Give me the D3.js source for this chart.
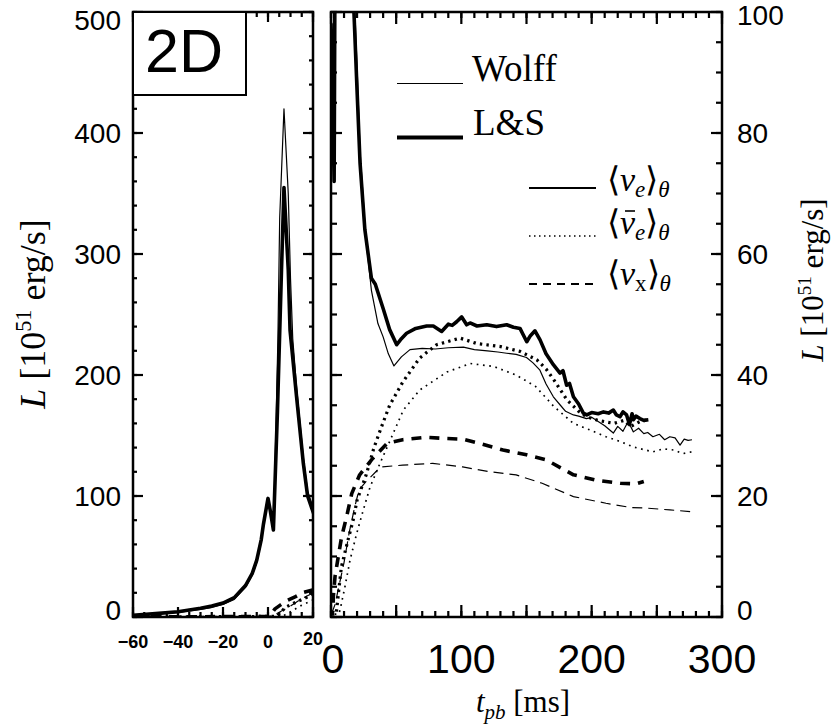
<!DOCTYPE html>
<html><head><meta charset="utf-8">
<script src="https://cdn.jsdelivr.net/npm/d3@7/dist/d3.min.js"></script>
<style>body{margin:0;background:#fff}svg{display:block}</style>
</head><body>
<script>
// ---- data: [t_pb (ms), L (1e51 erg/s)] ----
const wolffNue = [[-60,1.3],[-50,2.4],[-40,3.8],[-30,6.3],[-25,8],[-20,10.3],[-15,14.5],[-10,24.5],[-7,34.5],[-5,45],[-3,62],[-2,75],[0,96],[1,88],[2.5,72],[4.4,230],[5.2,330],[7.1,420],[9,350],[10,280],[11,230],[12.7,190],[15.7,132],[17.6,104],[20,91],[22.3,77],[26,65],[28,60],[31,54],[36,48.5],[40,46.3],[44,43.5],[48.3,41.5],[54,43],[60.6,44.2],[70,44.4],[80,44.3],[90,44.5],[101.6,44.6],[110,44.2],[120,44],[128,43.8],[134.8,43.6],[142,43.4],[150,42.9],[155,42],[160.3,40.8],[165,38.5],[170.6,36.4],[176,35],[180,34],[186,33.4],[190,33.2],[196,32.8],[200,33],[205,32.3],[210,31.6],[216.6,30.4],[220,31.5],[224,30.7],[228,32.3],[232,30.6],[236,31.2],[240,30.3],[243,30.5],[247,29.8],[252,30.2],[256,29.3],[260,29.8],[264,29.6],[267.8,28.4],[271,29.4],[274,29.2],[277,29.3]];
const lsNue = [[-60,1.5],[-50,2.8],[-40,4.3],[-30,7.2],[-25,9],[-20,11.5],[-15,16],[-10,26],[-7,36],[-5,47],[-3,64],[-2,77],[0,98],[1,88],[2.4,72],[4.2,170],[6,287],[7.1,355],[9,287],[9.8,237],[12.7,182],[15.7,127],[17.6,100],[20,87],[22.3,75],[26,64],[31,56],[34,55],[40,51],[45,47.5],[50.4,45],[54,46],[58,46.9],[65,47.7],[73.4,48.1],[78.5,48.1],[84.9,47.2],[90,48.4],[93,48.2],[96.4,48.8],[100.3,49.6],[104.1,48.3],[106.7,48.6],[112,48.1],[119.5,48.3],[127,48],[134.8,48.3],[140,47.9],[145,47.7],[150.2,45.5],[153,46.5],[156.5,47.3],[160.4,45.8],[165,43.5],[170.6,41.7],[175.7,40.3],[178,40.7],[180.8,38.3],[183,38.6],[186,36.4],[190,35.2],[193.6,33.7],[196.2,33.4],[200,33.8],[205,33.6],[209,33.9],[213,33.7],[216.6,34.2],[219,33.4],[221.7,33.1],[224,33.9],[226.8,33.4],[229,31.8],[231,33.6],[232,32.6],[234,33.2],[237,32.8],[240,32.5],[243.5,32.6]];
const wolffNuebar = [[-60,0],[6,0.5],[7,1.2],[10.7,5],[14.6,9.4],[19.7,13.8],[24.8,17.7],[30,21.5],[37.6,25.4],[45,29],[55.5,34.2],[68,37.5],[89,40.5],[107,41.9],[125,41.4],[142,40],[157,38.1],[171,34.8],[186,32],[200,30.8],[211,29.8],[222,29],[232,28.1],[247,27.3],[255,27.8],[263,27.6],[270,27],[277,27.3]];
const lsNuebar = [[-60,0],[4,0.5],[6,4.5],[8,8.3],[13,12.7],[17,16],[20,19.3],[27,23.5],[33,28],[38,31],[45,35],[55,38.8],[68,42.8],[81,45],[99,46.1],[112,45.2],[130,44.7],[145,43.9],[158,42.5],[165,41],[171,39.2],[181,35.9],[190,34],[196,33.1],[205,32.5],[217,32],[225,32.5],[230,31.5],[237,32.3],[243,32.6]];
const wolffNux = [[-60,0],[0,0.3],[3,2],[6,5],[10,9],[14,14],[18,18],[21.5,21],[27,22.4],[38,24.8],[55,25.1],[78,25.4],[101,24.8],[122,24],[142,23.5],[162,22.1],[186,19.9],[211,18.8],[230,18.1],[242,18],[260,17.7],[277,17.4]];
const lsNux = [[-60,0],[0,0.5],[1.5,1],[1.8,3.4],[3.1,6.7],[5.6,10],[8.2,13.3],[12,16.6],[15.9,20.4],[22,23.5],[32,26.2],[43,28.7],[55,29.3],[73,29.7],[89,29.5],[101,29.4],[114,28.7],[132,27.6],[150,26.8],[165,26],[186,23.5],[204,22.6],[222,22.1],[234,22],[240,22.4]];

const leftYTicks = [0,100,200,300,400,500];
const leftXTicks = [-60,-40,-20,0,20];
const rightXTicks = [0,100,200,300];
const rightYTicks = [0,20,40,60,80,100];

const W=831,H=728;
const svg=d3.select("body").append("svg").attr("width",W).attr("height",H);
const SANS="'Liberation Sans', Arial, Helvetica, sans-serif";
const SERIF="'Liberation Serif', 'Times New Roman', serif";

const xL=d3.scaleLinear().domain([-60,20]).range([133,313]);
const yL=d3.scaleLinear().domain([0,500]).range([617,12]);
const xR=d3.scaleLinear().domain([0,300]).range([331,722]);
const yR=d3.scaleLinear().domain([0,100]).range([617,12]);

const defs=svg.append("defs");
defs.append("clipPath").attr("id","cl").append("rect").attr("x",133).attr("y",12).attr("width",180).attr("height",605);
defs.append("clipPath").attr("id","cr").append("rect").attr("x",331).attr("y",12).attr("width",391).attr("height",605);

const series=[
 {d:wolffNue, w:1.2, dash:null},
 {d:lsNue, w:3.6, dash:null},
 {d:wolffNuebar, w:1.7, dash:"1.7,4.6"},
 {d:lsNuebar, w:3.2, dash:"2.4,4.2"},
 {d:wolffNux, w:1.2, dash:"10,6"},
 {d:lsNux, w:3.6, dash:"10,8"}
];
function drawPanel(x,y,clip){
  const g=svg.append("g").attr("clip-path",`url(#${clip})`);
  const line=d3.line().x(p=>x(p[0])).y(p=>y(p[1]));
  series.forEach(s=>{
    g.append("path").attr("d",line(s.d)).attr("fill","none").attr("stroke","#000")
     .attr("stroke-width",s.w).attr("stroke-dasharray",s.dash).attr("stroke-linejoin","round");
  });
}
drawPanel(xL,yL,"cl");
drawPanel(xR,yR,"cr");

// ticks, each placed through the scales
function addTicks(vals,scale,orient,pos,len){
  for(const v of vals){
    const s=scale(v);
    let x1,x2,y1,y2;
    if(orient==="bottom"){x1=s;x2=s;y1=pos;y2=pos-len;}
    else if(orient==="top"){x1=s;x2=s;y1=pos;y2=pos+len;}
    else if(orient==="left"){y1=s;y2=s;x1=pos;x2=pos+len;}
    else {y1=s;y2=s;x1=pos;x2=pos-len;}
    svg.append("line").attr("x1",x1).attr("x2",x2).attr("y1",y1).attr("y2",y2).attr("stroke","#000").attr("stroke-width",2.2);
  }
}
const lxMinor=d3.range(-60,21,5), lxMajor=d3.range(-60,21,20);
addTicks(lxMinor,xL,"bottom",617,5); addTicks(lxMajor,xL,"bottom",617,10);
addTicks(lxMinor,xL,"top",12,5); addTicks(lxMajor,xL,"top",12,10);
const lyMinor=d3.range(0,501,20);
addTicks(lyMinor,yL,"left",133,4);   addTicks(leftYTicks,yL,"left",133,10);
addTicks(lyMinor,yL,"right",313,4);  addTicks(leftYTicks,yL,"right",313,10);
const rxMinor=d3.range(0,301,10), rxMajor=d3.range(0,301,50);
addTicks(rxMinor,xR,"bottom",617,6); addTicks(rxMajor,xR,"bottom",617,12);
addTicks(rxMinor,xR,"top",12,6);     addTicks(rxMajor,xR,"top",12,12);
const ryMinor=d3.range(0,101,5);
addTicks(ryMinor,yR,"left",331,6);   addTicks(rightYTicks,yR,"left",331,11);
addTicks(ryMinor,yR,"right",722,6);  addTicks(rightYTicks,yR,"right",722,11);

// frames
svg.append("rect").attr("x",133).attr("y",12).attr("width",180).attr("height",605).attr("fill","none").attr("stroke","#000").attr("stroke-width",2.5);
svg.append("rect").attr("x",331).attr("y",12).attr("width",391).attr("height",605).attr("fill","none").attr("stroke","#000").attr("stroke-width",2.5);

// 2D box
svg.append("rect").attr("x",133).attr("y",12).attr("width",113).attr("height",83).attr("fill","#fff").attr("stroke","#000").attr("stroke-width",2);
svg.append("text").attr("x",145).attr("y",72).attr("font-family",SANS).attr("font-size",61).text("2D");

// tick labels
const labAdj=v=>(v===0?-7:0);
svg.append("g").selectAll("text").data(leftYTicks).join("text")
 .attr("x",121).attr("y",d=>yL(d)+labAdj(d)+(d===500?8:0)).attr("dy","0.36em").attr("text-anchor","end")
 .attr("font-family",SANS).attr("font-size",28).text(d=>d);
svg.append("g").selectAll("text").data(rightYTicks).join("text")
 .attr("x",737).attr("y",d=>yR(d)+labAdj(d)+(d===100?3:0)).attr("dy","0.36em").attr("text-anchor","start")
 .attr("font-family",SANS).attr("font-size",28).text(d=>d);
svg.append("g").selectAll("text").data(leftXTicks).join("text")
 .attr("x",d=>xL(d)).attr("y",d=>d===20?645:648).attr("text-anchor","middle")
 .attr("font-family",SANS).attr("font-size",18).attr("font-weight","bold")
 .text(d=>d<0?"\u2212"+Math.abs(d):d);
svg.append("g").selectAll("text").data(rightXTicks).join("text")
 .attr("x",d=>xR(d)+(d===0?2:0)).attr("y",673).attr("text-anchor","middle")
 .attr("font-family",SANS).attr("font-size",41).text(d=>d);

// axis titles
function yTitle(x,y,fs){
  const t=svg.append("text").attr("transform",`translate(${x},${y}) rotate(-90)`).attr("text-anchor","middle")
   .attr("font-family",SERIF).attr("font-size",fs);
  t.append("tspan").attr("font-style","italic").text("L");
  t.append("tspan").text(" [10");
  t.append("tspan").attr("font-size",fs*0.62).attr("dy",-fs*0.38).text("51");
  t.append("tspan").attr("dy",fs*0.38).text(" erg/s]");
}
yTitle(45,314,36);
yTitle(823,280,31);
const xt=svg.append("text").attr("x",523).attr("y",712).attr("text-anchor","middle").attr("font-family",SERIF).attr("font-size",31);
xt.append("tspan").attr("font-style","italic").text("t");
xt.append("tspan").attr("font-style","italic").attr("font-size",21).attr("dy",7).text("pb");
xt.append("tspan").attr("dy",-7).text(" [ms]");

// legend 1
svg.append("line").attr("x1",397).attr("x2",463).attr("y1",83.5).attr("y2",83.5).attr("stroke","#000").attr("stroke-width",1.2);
svg.append("text").attr("x",472).attr("y",81).attr("font-family",SERIF).attr("font-size",37).text("Wolff");
svg.append("line").attr("x1",397).attr("x2",463).attr("y1",137.5).attr("y2",137.5).attr("stroke","#000").attr("stroke-width",4);
svg.append("text").attr("x",473).attr("y",135).attr("font-family",SERIF).attr("font-size",37).text("L&S");

// legend 2
const leg2=[{y:188,dash:null,bar:false,sub:"e",subIt:true,ty:191},
            {y:236,dash:"1.5,3.5",bar:true,sub:"e",subIt:true,ty:234},
            {y:284,dash:"8,6",bar:false,sub:"x",subIt:false,ty:285}];
leg2.forEach(l=>{
  svg.append("line").attr("x1",529).attr("x2",596).attr("y1",l.y).attr("y2",l.y).attr("stroke","#000")
   .attr("stroke-width",l.bar?1.6:2).attr("stroke-dasharray",l.dash);
  const t=svg.append("text").attr("x",607).attr("y",l.ty).attr("font-family",SERIF).attr("font-size",34);
  t.append("tspan").text("\u27E8");
  t.append("tspan").attr("font-style","italic").text("\u03BD");
  t.append("tspan").attr("font-style",l.subIt?"italic":"normal").attr("font-size",23).attr("dy",6).text(l.sub);
  t.append("tspan").attr("dy",-6).text("\u27E9");
  t.append("tspan").attr("font-style","italic").attr("font-size",23).attr("dy",6).text("\u03B8");
  if(l.bar){
    svg.append("line").attr("x1",625).attr("x2",635)
      .attr("y1",l.ty-23).attr("y2",l.ty-23).attr("stroke","#000").attr("stroke-width",1.6);
  }
});
</script>
</body></html>
